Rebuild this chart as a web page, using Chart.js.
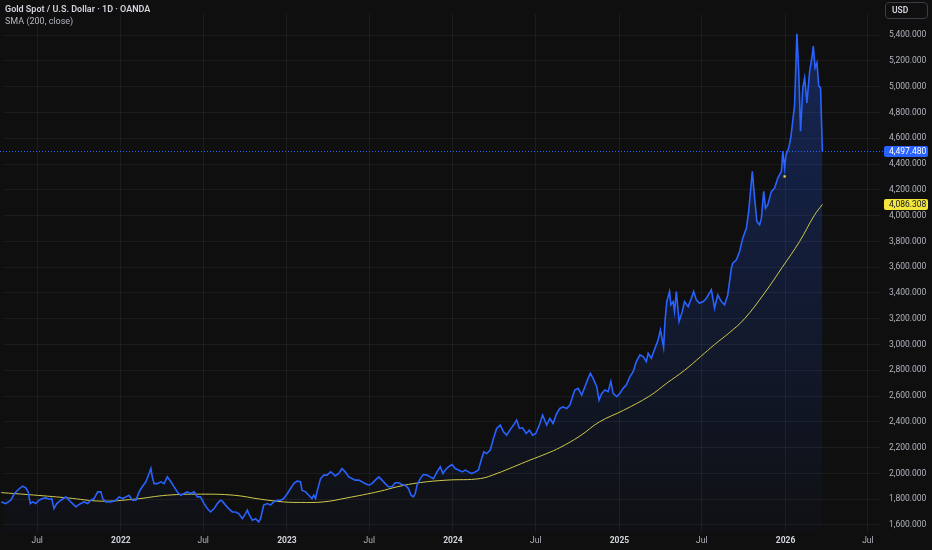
<!DOCTYPE html>
<html>
<head>
<meta charset="utf-8">
<title>Gold Spot / U.S. Dollar</title>
<script src="https://cdn.jsdelivr.net/npm/chart.js@4.4.1/dist/chart.umd.min.js"></script>
<style>
    html, body { margin: 0; padding: 0; background: #0f0f0f; }
    #wrap { position: relative; width: 932px; height: 550px; }
    canvas { display: block; }
    .title { position: absolute; left: 5px; top: 4px; font: 600 9px Roboto, sans-serif; color: #d1d4dc; }
    .study { position: absolute; left: 5px; top: 16px; font: 9px Roboto, sans-serif; color: #b2b5be; }
    .usd {
        position: absolute; left: 885px; top: 2px; width: 43px; height: 17px;
        box-sizing: border-box; border: 1px solid #3a3d45; border-radius: 4px;
        font: 600 8.5px Roboto, sans-serif; color: #d1d4dc; padding-left: 6px; line-height: 15px;
    }
</style>
</head>
<body>
<div id="wrap">
    <canvas id="goldChart" width="932" height="550"></canvas>
    <div class="title">Gold Spot / U.S. Dollar · 1D · OANDA</div>
    <div class="study">SMA (200, close)</div>
    <div class="usd">USD</div>
</div>
<script>
// price samples (dates + close)
const dates = [
    '2021-04-13','2021-04-23','2021-05-04','2021-05-12','2021-05-23','2021-05-30','2021-06-06','2021-06-11','2021-06-16','2021-06-21',
    '2021-06-28','2021-07-05','2021-07-13','2021-07-20','2021-07-27','2021-08-02','2021-08-07','2021-08-13','2021-08-22','2021-09-02',
    '2021-09-09','2021-09-17','2021-09-24','2021-09-29','2021-10-05','2021-10-12','2021-10-20','2021-10-27','2021-11-03','2021-11-11',
    '2021-11-18','2021-11-22','2021-11-29','2021-12-10','2021-12-21','2021-12-28','2022-01-05','2022-01-12','2022-01-19','2022-01-26',
    '2022-02-03','2022-02-10','2022-02-17','2022-02-25','2022-03-04','2022-03-08','2022-03-11','2022-03-15','2022-03-22','2022-03-30',
    '2022-04-06','2022-04-13','2022-04-21','2022-04-28','2022-05-05','2022-05-12','2022-05-20','2022-05-27','2022-06-03','2022-06-11',
    '2022-06-18','2022-06-25','2022-07-03','2022-07-10','2022-07-17','2022-07-25','2022-08-01','2022-08-08','2022-08-12','2022-08-19',
    '2022-08-26','2022-09-03','2022-09-10','2022-09-17','2022-09-25','2022-10-02','2022-10-06','2022-10-09','2022-10-17','2022-10-24',
    '2022-10-31','2022-11-04','2022-11-11','2022-11-19','2022-11-26','2022-12-03','2022-12-11','2022-12-18','2022-12-25','2023-01-02',
    '2023-01-09','2023-01-16','2023-01-23','2023-01-31','2023-02-03','2023-02-11','2023-02-18','2023-02-25','2023-03-01','2023-03-05',
    '2023-03-08','2023-03-16','2023-03-23','2023-03-30','2023-04-07','2023-04-12','2023-04-17','2023-04-25','2023-05-02','2023-05-09',
    '2023-05-17','2023-05-24','2023-05-31','2023-06-08','2023-06-15','2023-06-22','2023-06-30','2023-07-07','2023-07-14','2023-07-22',
    '2023-07-29','2023-08-05','2023-08-12','2023-08-20','2023-08-27','2023-09-03','2023-09-11','2023-09-18','2023-09-25','2023-10-01',
    '2023-10-06','2023-10-10','2023-10-14','2023-10-21','2023-10-28','2023-11-05','2023-11-12','2023-11-19','2023-11-27','2023-12-04',
    '2023-12-10','2023-12-15','2023-12-22','2023-12-30','2024-01-06','2024-01-13','2024-01-21','2024-01-28','2024-02-04','2024-02-11',
    '2024-02-19','2024-02-26','2024-03-04','2024-03-09','2024-03-15','2024-03-23','2024-03-30','2024-04-06','2024-04-14','2024-04-21',
    '2024-04-28','2024-05-05','2024-05-13','2024-05-20','2024-05-26','2024-06-02','2024-06-10','2024-06-17','2024-06-24','2024-07-01',
    '2024-07-09','2024-07-16','2024-07-25','2024-08-01','2024-08-08','2024-08-16','2024-08-23','2024-08-30','2024-09-07','2024-09-14',
    '2024-09-21','2024-09-25','2024-10-02','2024-10-10','2024-10-17','2024-10-24','2024-10-29','2024-11-04','2024-11-12','2024-11-17',
    '2024-11-23','2024-11-30','2024-12-07','2024-12-13','2024-12-18','2024-12-26','2025-01-02','2025-01-09','2025-01-16','2025-01-24',
    '2025-01-31','2025-02-07','2025-02-15','2025-02-22','2025-03-01','2025-03-05','2025-03-12','2025-03-20','2025-03-27','2025-04-01',
    '2025-04-08','2025-04-11','2025-04-15','2025-04-21','2025-04-24','2025-04-29','2025-05-02','2025-05-06','2025-05-12','2025-05-19',
    '2025-05-24','2025-06-01','2025-06-08','2025-06-13','2025-06-19','2025-06-26','2025-07-04','2025-07-11','2025-07-22','2025-07-29',
    '2025-08-05','2025-08-13','2025-08-20','2025-08-27','2025-09-04','2025-09-07','2025-09-15','2025-09-22','2025-09-29','2025-10-07',
    '2025-10-12','2025-10-18','2025-10-20','2025-10-25','2025-10-30','2025-11-05','2025-11-09','2025-11-14','2025-11-18','2025-11-23',
    '2025-12-01','2025-12-08','2025-12-15','2025-12-23','2025-12-26','2025-12-30','2026-01-02','2026-01-08','2026-01-13','2026-01-21',
    '2026-01-26','2026-01-30','2026-02-03','2026-02-08','2026-02-12','2026-02-17','2026-02-23','2026-03-01','2026-03-03','2026-03-07',
    '2026-03-11','2026-03-15','2026-03-19','2026-03-23'
];
const prices = [
    1779,1766,1792,1844,1883,1901,1888,1857,1766,1779,
    1766,1792,1805,1810,1800,1805,1727,1766,1792,1818,
    1792,1766,1740,1754,1766,1779,1766,1792,1805,1857,
    1857,1805,1779,1779,1792,1818,1805,1818,1831,1792,
    1792,1857,1896,1935,1999,2038,1973,1921,1921,1935,
    1921,1973,1935,1896,1857,1831,1844,1857,1844,1857,
    1818,1818,1766,1727,1701,1727,1766,1792,1785,1754,
    1727,1701,1701,1688,1649,1688,1715,1688,1637,1649,
    1624,1649,1754,1766,1754,1779,1792,1792,1805,1844,
    1883,1921,1940,1935,1870,1857,1831,1805,1831,1805,
    1857,1960,1987,1987,2012,1999,1981,1999,2038,2012,
    1973,1960,1948,1948,1935,1921,1909,1921,1948,1973,
    1948,1921,1896,1896,1927,1927,1914,1909,1883,1831,
    1818,1844,1909,1960,1991,1987,1973,1960,2012,2051,
    1999,2026,2051,2069,2038,2026,2012,2026,2012,1999,
    2012,2026,2116,2168,2154,2181,2271,2349,2375,2323,
    2297,2336,2375,2414,2349,2354,2310,2336,2297,2310,
    2375,2453,2375,2426,2388,2465,2504,2517,2504,2531,
    2608,2647,2660,2608,2673,2737,2776,2737,2673,2569,
    2621,2647,2634,2712,2621,2595,2621,2660,2686,2750,
    2789,2867,2919,2906,2867,2931,2893,2970,3036,3113,
    2976,3178,3333,3411,3308,3333,3255,3411,3178,3255,
    3333,3294,3359,3411,3346,3320,3333,3359,3424,3281,
    3385,3333,3308,3385,3592,3631,3657,3722,3825,3903,
    4032,4266,4343,4136,3955,3929,3980,4188,4058,4085,
    4188,4214,4291,4343,4499,4369,4473,4524,4615,4862,
    5410,5120,4654,4991,5068,4874,5120,5250,5315,5146,
    5185,5004,4991,4497.48
];

// 200-day simple moving average
const smaDates = [
    '2021-04-13','2021-06-10','2021-09-06','2021-11-18','2022-01-30','2022-04-13','2022-06-25','2022-09-06','2022-11-04','2022-12-25',
    '2023-01-31','2023-03-22','2023-05-13','2023-07-25','2023-08-31','2023-10-21','2023-12-19','2024-03-01','2024-04-07','2024-05-13',
    '2024-06-18','2024-07-25','2024-08-23','2024-10-06','2024-11-18','2025-01-10','2025-03-08','2025-04-15','2025-05-24','2025-06-28',
    '2025-07-29','2025-08-30','2025-10-03','2025-11-16','2025-12-25','2026-02-01','2026-03-05','2026-03-23'
];
const smaValues = [
    1851,1836,1810,1785,1800,1831,1839,1831,1800,1779,
    1775,1779,1810,1862,1896,1929,1948,1960,2000,2051,
    2103,2154,2200,2290,2400,2490,2600,2700,2800,2905,
    3000,3090,3200,3400,3600,3800,4000,4086.308
];

const markerDates = ['2025-12-30'];
const markerValues = [4304];

const yTicks = [1600, 1800, 2000, 2200, 2400, 2600, 2800, 3000, 3200, 3400, 3600, 3800, 4000, 4200, 4400, 4600, 4800, 5000, 5200, 5400];
const xTicks = ['2021-07-01','2022-01-01','2022-07-01','2023-01-01','2023-07-01','2024-01-01','2024-07-01','2025-01-01','2025-07-01','2026-01-01','2026-07-01'];

const toPoints = (ds, vs) => ds.map((d, i) => ({ x: Date.parse(d), y: vs[i] }));
const fmt = v => v.toLocaleString('en-US', { minimumFractionDigits: 3, maximumFractionDigits: 3 });
const isYear = c => c.tick && new Date(c.tick.value).getUTCMonth() === 0;

Chart.defaults.font.family = 'Roboto, sans-serif';
Chart.defaults.font.size = 8.5;

// last price line + coloured value tags on the price scale
const priceTags = {
    id: 'priceTags',
    afterDatasetsDraw(chart) {
        const { ctx, chartArea } = chart;
        const y = Math.round(chart.scales.y.getPixelForValue(prices[prices.length - 1])) + 0.5;
        ctx.save();
        ctx.strokeStyle = '#2962ff';
        ctx.lineWidth = 1;
        ctx.setLineDash([1, 2]);
        ctx.beginPath();
        ctx.moveTo(0, y);
        ctx.lineTo(chartArea.right + 4, y);
        ctx.stroke();
        ctx.restore();
    },
    afterDraw(chart) {
        const { ctx, chartArea } = chart;
        const tags = [
            { v: prices[prices.length - 1], bg: '#2962ff', fg: '#ffffff' },
            { v: smaValues[smaValues.length - 1], bg: '#f2e53c', fg: '#131722' }
        ];
        ctx.save();
        ctx.font = '8.5px Roboto, sans-serif';
        ctx.textBaseline = 'middle';
        tags.forEach(t => {
            const y = chart.scales.y.getPixelForValue(t.v);
            ctx.fillStyle = t.bg;
            ctx.beginPath();
            ctx.roundRect(chartArea.right + 4, y - 5.5, 44, 11, 2);
            ctx.fill();
            ctx.fillStyle = t.fg;
            ctx.fillText(fmt(t.v), chartArea.right + 9, y + 0.5);
        });
        ctx.restore();
    }
};

new Chart(document.getElementById('goldChart'), {
    type: 'line',
    data: {
        datasets: [
            {
                label: 'Gold',
                data: toPoints(dates, prices),
                borderColor: '#2962ff',
                borderWidth: 1.6,
                pointRadius: 0,
                tension: 0,
                clip: { left: 5, top: 0, right: 0, bottom: 0 },
                fill: 'start',
                backgroundColor: (c) => {
                    const a = c.chart.chartArea;
                    if (!a) return 'rgba(41,98,255,0.1)';
                    const g = c.chart.ctx.createLinearGradient(0, a.top, 0, a.bottom);
                    g.addColorStop(0, 'rgba(41,98,255,0.30)');
                    g.addColorStop(1, 'rgba(41,98,255,0.02)');
                    return g;
                }
            },
            {
                label: 'SMA',
                data: toPoints(smaDates, smaValues),
                borderColor: '#cfc94c',
                borderWidth: 1,
                pointRadius: 0,
                tension: 0.4,
                clip: { left: 5, top: 0, right: 0, bottom: 0 },
                fill: false
            },
            {
                label: 'marker',
                data: toPoints(markerDates, markerValues),
                showLine: false,
                pointStyle: 'rect',
                pointRadius: 1.6,
                pointBackgroundColor: '#f2e53c',
                pointBorderWidth: 0
            }
        ]
    },
    options: {
        responsive: false,
        animation: false,
        layout: { padding: 0 },
        plugins: {
            legend: { display: false },
            tooltip: { enabled: false },
            filler: { drawTime: 'beforeDatasetsDraw' }
        },
        scales: {
            x: {
                type: 'linear',
                min: Date.parse('2021-04-19T02:00:00Z'),
                max: Date.parse('2026-07-27T16:00:00Z'),
                afterBuildTicks: s => { s.ticks = xTicks.map(d => ({ value: Date.parse(d) })); },
                afterFit: s => { s.height = 18; },
                grid: { color: 'rgba(255,255,255,0.055)', drawTicks: false },
                border: { display: false },
                ticks: {
                    padding: 4,
                    maxRotation: 0,
                    autoSkip: false,
                    callback: v => new Date(v).getUTCMonth() === 0 ? String(new Date(v).getUTCFullYear()) : 'Jul',
                    color: c => isYear(c) ? '#d1d4dc' : '#b2b5be',
                    font: c => ({ size: 8.5, weight: isYear(c) ? 'bold' : 'normal' })
                }
            },
            y: {
                position: 'right',
                min: 1545.5,
                max: 5563.2,
                afterBuildTicks: s => { s.ticks = yTicks.map(v => ({ value: v })); },
                afterFit: s => { s.width = 52; },
                grid: { color: 'rgba(255,255,255,0.055)', drawTicks: false },
                border: { display: false },
                ticks: {
                    padding: 9,
                    color: '#b2b5be',
                    callback: v => fmt(v)
                }
            }
        }
    },
    plugins: [priceTags]
});
</script>
</body>
</html>
